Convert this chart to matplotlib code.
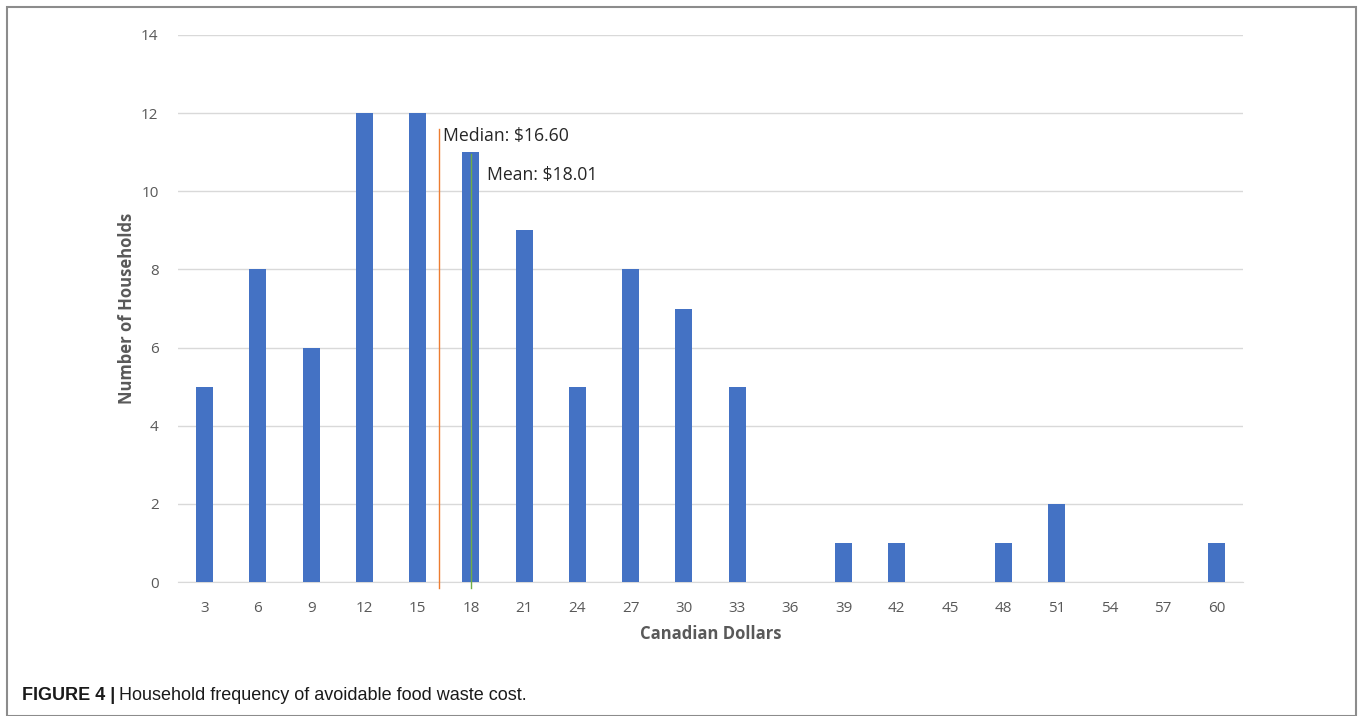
import matplotlib
matplotlib.use("Agg")
import matplotlib.pyplot as plt
from matplotlib.patches import Rectangle

categories = [3, 6, 9, 12, 15, 18, 21, 24, 27, 30, 33, 36, 39, 42, 45, 48, 51, 54, 57, 60]
households = [5, 8, 6, 12, 12, 11, 9, 5, 8, 7, 5, 0, 1, 1, 0, 1, 2, 0, 0, 1]
median_value = 16.60
mean_value = 18.01
yticks = [0, 2, 4, 6, 8, 10, 12, 14]

plt.rcParams['font.family'] = ['Open Sans', 'DejaVu Sans']

fig = plt.figure(figsize=(13.6, 7.16), dpi=100)
ax = fig.add_axes([178/1360, 1-582/716, 1065/1360, (582-35)/716])

x = list(range(len(categories)))
ax.bar(x, households, width=0.32, color='#4472C4', zorder=3)

ax.set_xlim(-0.5, len(categories) - 0.5)
ax.set_ylim(0, 14)
ax.set_yticks(yticks)
ax.set_xticks(x)
ax.set_xticklabels([str(c) for c in categories])
ax.grid(axis='y', color='#d9d9d9', linewidth=1.0, zorder=0)
for s in ['top', 'right', 'left']:
    ax.spines[s].set_visible(False)
ax.spines['bottom'].set_color('#d9d9d9')
ax.tick_params(axis='both', length=0, colors='#595959', labelsize=11)
ax.tick_params(axis='y', pad=14)
ax.tick_params(axis='x', pad=14)

ax.set_ylabel('Number of Households', fontsize=12, fontweight='bold', color='#595959', labelpad=4)
ax.set_xlabel('Canadian Dollars', fontsize=12, fontweight='bold', color='#595959', labelpad=6)

def pos(v):
    return (v - categories[0]) / (categories[1] - categories[0])

mx = pos(median_value) - 0.13
ax.plot([mx, mx], [-0.15, 11.6], color='#ED7D31', linewidth=1.0, zorder=4, clip_on=False)
ax.text(mx + 0.08, 11.42, 'Median: $16.60', fontsize=12.7, color='#262626', va='center', ha='left', zorder=5)

ex = pos(mean_value)
ax.plot([ex, ex], [-0.15, 10.95], color='#70AD47', linewidth=1.0, zorder=4, clip_on=False)
ax.text(ex + 0.3, 10.42, 'Mean: $18.01', fontsize=12.7, color='#262626', va='center', ha='left', zorder=5)

# outer frame
fig.patches.append(Rectangle((7/1360, 0), 1349/1360, 1-7/716, transform=fig.transFigure,
                             fill=False, edgecolor='#8c8c8c', linewidth=1.5))

cap_font = ['Liberation Sans Narrow', 'Liberation Sans', 'DejaVu Sans']
t1 = fig.text(22/1360, 1-695/716, 'FIGURE 4 |', fontsize=13, fontweight='bold', family=cap_font,
              color='#1a1a1a', va='center', ha='left')
fig.canvas.draw()
bb = t1.get_window_extent()
fig.text((bb.x1 + 4) / 1360, 1-695/716, 'Household frequency of avoidable food waste cost.',
         fontsize=13, family=cap_font, color='#1a1a1a', va='center', ha='left')

fig.savefig('out.png', dpi=100)
